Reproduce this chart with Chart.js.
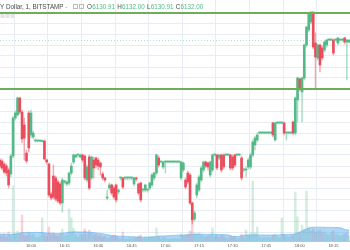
<!DOCTYPE html>
<html><head><meta charset="utf-8">
<script src="https://cdn.jsdelivr.net/npm/chart.js@4/dist/chart.umd.min.js"></script>
<style>html,body{margin:0;padding:0;background:#fff;overflow:hidden}#wrap{width:350px;height:250px}</style>
</head><body><div id="wrap"><canvas id="c" width="350" height="250"></canvas></div>
<script>
// 1-minute candles; minute offsets relative to 16:00, first candle at 15:46
const firstMinute = -14;
const opens = [
 6072,6071.5,6070,6069,6067,6065,6074,6093,6094.5,6103,
 6096,6089.5,6075.5,6095.5,6084.5,6083.5,6081.5,6081.5,6081.5,6081.25,
 6081.5,6072,6070,6055,6064,6063,6061,6060,6050.5,6061,
 6060,6060.5,6065.5,6071,6073.5,6074.5,6073.5,6074.5,6074,6062,
 6073.5,6063,6072,6073,6072,6070.5,6065,6063,6053,6058,
 6059.5,6058,6059.5,6056,6063,6063,6063,6063,6063,6063,
 6060,6063,6060,6060.5,6057,6057,6057,6058,6059.5,6063,
 6065.5,6073,6071,6068.5,6071,6071,6071,6071,6071,6071,
 6071,6063,6067,6062,6065.5,6064.5,6050.5,6042.5,6054.5,6057,
 6062,6067,6071,6070.5,6064.5,6067,6074.5,6074.5,6073,6074.5,
 6074.5,6074.5,6074.5,6074.5,6073.5,6074.5,6074.5,6074.5,6073,6067,
 6067,6068.5,6068.5,6074.5,6079.5,6082,6085.5,6085.5,6085.5,6085.5,
 6085.5,6085.5,6090.5,6082,6090.5,6090.5,6090.5,6090.5,6085.5,6085.5,
 6085.5,6091,6085.5,6102,6112.5,6106,6113,6129.5,6137,6141,
 6146,6130.5,6123,6129.5,6128,6127,6129.5,6132,6132,6132,
 6132,6130.5,6132,6132,6133,6131,6130.91
];
const highs = [
 6073,6072.5,6071,6070,6068,6075,6094,6096.5,6103.5,6103.5,
 6097,6093,6077,6096.5,6097,6086.5,6082.5,6082,6082,6082,
 6082,6072.5,6070.5,6056,6069.5,6064,6062,6061,6063,6062,
 6061.5,6066,6070.5,6075,6075,6075,6075,6075,6074.5,6069.5,
 6074.5,6074,6073.5,6073.5,6073,6071,6066,6063.5,6057,6060.5,
 6060,6059,6060,6057.5,6063.5,6063.5,6063.5,6063.5,6063.5,6063.5,
 6063.5,6063.5,6060.5,6061,6057.5,6060,6057.5,6061,6065.5,6066,
 6075,6074,6071.5,6071.5,6071.5,6071.5,6071.5,6071.5,6071.5,6071.5,
 6071.5,6071.5,6071,6063,6066.5,6065.5,6051,6046.5,6060.5,6064.5,
 6069,6071.5,6071.5,6071,6071.5,6075,6075,6075,6075,6075,
 6075,6075,6075,6075,6074.5,6075,6075,6075,6074,6068,
 6068.5,6073,6075.5,6082,6084,6085.5,6086,6086,6086,6086,
 6086,6086,6091,6091,6091,6091,6091,6091,6086,6086,
 6086,6091.5,6103.5,6113.5,6113,6113.5,6130,6139,6145.5,6146,
 6146,6135.5,6130,6130,6129,6131.5,6132.5,6132.5,6132.5,6132.5,
 6132.5,6133.5,6132.5,6132.5,6133.5,6132.5,6132
];
const lows = [
 6068,6067,6065,6064,6058,6063.5,6073,6092,6094,6095,
 6080.5,6072,6070.5,6076,6083,6082.5,6081,6081,6081,6081,
 6072,6070,6053.5,6052,6052.5,6051.5,6050.5,6049.5,6046,6060,
 6059,6059.5,6064.5,6070,6073,6073.5,6073,6071,6062,6061,
 6057,6062,6063,6068,6067,6064.5,6062,6061,6052,6057,
 6054.5,6052.5,6051,6055,6062,6057.5,6062,6062,6062,6062,
 6059,6061.5,6054.5,6051,6056,6056,6056,6057,6058.5,6062,
 6064.5,6068.5,6070.5,6067.5,6065.5,6070.5,6070.5,6070.5,6070.5,6070.5,
 6070.5,6062,6066,6057.5,6060,6049.5,6040,6041.5,6053,6056,
 6061,6066,6068,6067,6063.5,6066,6074,6067,6072,6066,
 6067.5,6074,6074,6067,6067,6068.5,6074,6074,6062,6066,
 6063.5,6067.5,6067.5,6073.5,6077,6081,6085,6085,6085,6085,
 6085,6085,6083.5,6081.5,6090,6090,6090,6084.5,6082,6085,
 6085,6084.5,6084.5,6091,6106.5,6091,6112,6128.5,6136,6140,
 6127.5,6108,6122,6116,6122,6126,6128.5,6131.5,6131.5,6124.5,
 6131.5,6129.5,6131.5,6131.5,6130,6112,6130.91
];
const closes = [
 6069,6068,6066,6065.5,6059.5,6074,6093,6095.5,6103,6096,
 6082.5,6083,6071.5,6078,6095.5,6085.5,6082,6081.5,6081.5,6081.5,
 6072.5,6071,6054.5,6053,6053.5,6052.5,6051.5,6050.5,6062,6061.5,
 6061,6065.5,6069,6074.5,6074.5,6074.5,6074.5,6072,6063,6068.5,
 6058,6073.5,6068,6069.5,6069,6068.5,6063,6062,6053.5,6059.5,
 6055.5,6053.5,6052,6057,6063,6058.5,6063,6063,6063,6063,
 6063,6062.5,6055.5,6052,6057,6059.5,6057,6060.5,6064.5,6065.5,
 6074.5,6069.5,6071,6071,6071,6071,6071,6071,6071,6071,
 6071,6071,6070.5,6058.5,6061,6050.5,6042,6045.5,6059.5,6063.5,
 6068,6071,6069,6068.5,6071,6074.5,6074.5,6068,6074.5,6067,
 6068.5,6074.5,6074.5,6068,6068,6069.5,6074.5,6074.5,6063,6067,
 6067,6072,6074.5,6081,6083,6084.5,6085.5,6085.5,6085.5,6085.5,
 6085.5,6085.5,6084.5,6090.5,6090.5,6090.5,6090.5,6085.5,6085.5,6085.5,
 6085.5,6085.5,6103,6113,6107.5,6113,6129.5,6138.5,6145,6146,
 6128.5,6123.5,6129.5,6119.5,6123,6131,6132,6132,6132,6125.5,
 6132,6133,6132,6132,6131,6132,6132
];
const volumes = [
 3.0,2.5,3.5,2.0,4.5,3.0,27.5,4.0,5.0,3.5,
 13.0,3.0,2.5,4.0,3.0,3.5,2.0,1.5,2.5,11.5,
 3.5,2.5,7.0,3.0,4.0,3.0,2.5,3.5,6.0,2.5,
 3.0,16.0,11.5,6.5,3.0,2.0,3.5,3.0,6.0,3.5,
 5.5,4.0,3.0,3.5,2.5,3.0,2.0,2.5,1.5,2.0,
 2.5,3.0,2.5,1.5,1.0,4.5,1.0,1.0,1.5,1.0,
 2.0,1.5,2.5,3.0,1.0,2.0,1.0,2.0,2.5,2.0,
 6.5,2.5,1.0,2.0,1.5,1.0,1.0,1.0,1.5,1.0,
 1.0,3.5,2.5,3.0,3.5,5.0,10.0,4.0,3.5,4.0,
 3.0,2.5,2.0,2.5,3.0,6.5,2.0,3.0,2.0,3.0,
 2.5,1.5,1.5,2.5,2.0,2.5,1.0,1.5,3.5,2.0,
 5.5,3.0,4.0,30.0,4.0,7.0,2.0,1.5,2.0,1.5,
 2.0,1.5,3.0,3.5,2.0,1.5,11.5,3.0,2.5,2.0,
 2.5,3.0,24.5,12.0,4.0,8.0,6.0,25.0,7.0,5.0,
 6.0,4.5,5.0,5.5,4.0,4.5,3.5,3.0,4.0,5.0,
 3.0,3.5,2.5,3.0,3.5,4.0,2.5
];
const volumeMA = [
 3.5,3.5,3.4,3.4,3.3,3.3,3.4,3.5,3.6,
 4.0,4.2,4.2,4.3,4.3,4.2,4.2,4.3,4.3,4.2,4.2,4.1,4.0,3.9,
 3.8,3.8,3.7,3.7,3.8,3.9,4.0,4.2,
 4.4,4.5,4.6,4.6,4.5,4.5,4.5,4.6,4.5,4.4,4.3,4.2,4.0,
 3.9,3.8,3.6,3.4,3.2,3.0,
 2.8,2.6,2.5,2.5,2.4,2.4,2.3,2.2,2.2,2.1,2.1,
 2.0,2.0,2.0,1.9,1.9,2.0,2.0,2.0,2.1,2.3,
 2.4,2.5,2.5,2.6,2.6,2.7,2.8,2.8,
 2.9,2.9,3.0,3.0,3.0,3.1,3.2,3.3,3.3,
 3.4,3.4,3.4,3.4,3.3,3.3,3.4,3.4,3.3,3.3,3.3,3.2,3.2,3.1,3.0,2.8,
 2.4,2.2,2.2,2.4,
 2.7,2.9,3.0,3.0,3.0,3.1,3.1,3.1,3.0,3.0,3.0,3.0,3.0,3.0,3.0,3.0,3.0,3.1,3.2,
 3.3,3.3,3.3,3.4,3.4,3.6,
 4.0,4.5,5.0,5.5,6.0,6.4,
 6.8,6.9,6.9,6.9,6.9,6.9,6.9,6.8,6.8,6.8,6.8,6.7,6.7,6.6,6.4,
 5.8,5.6,5.5
];
const tickMinutes = [0,15,30,45,60,75,90,105,120,135];
const tickLabels = ['16:00','16:15','16:30','16:45','17:00','17:15','17:30','17:45','18:00','18:15'];
const gridPrices = [6146,6140.5,6135,6129.5,6124,6118.5,6113,6107.5,6102,6096.5,6091,6085.5,6080,6074.5,6069,6063.5,6058,6052.5,6047,6041.5,6036];
const levels = [6145.5, 6107.5];
const titleText = 'Y Dollar, 1, BITSTAMP';
const ohlcLetters = ['O','H','L','C'];

const UP = '#53b987', DOWN = '#eb4d5c';
const minutes = opens.map((_, i) => firstMinute + i);
const isUp = opens.map((o, i) => closes[i] >= o);

const overlay = {
  id: 'overlay',
  afterDatasetsDraw(chart) {
    const {ctx, chartArea: a, scales: {y}} = chart;
    ctx.save();
    const py = Math.round(y.getPixelForValue(closes[closes.length - 1])) + 0.5;
    ctx.strokeStyle = 'rgba(83,185,135,0.45)';
    ctx.lineWidth = 1;
    ctx.setLineDash([1, 2]);
    ctx.beginPath(); ctx.moveTo(a.left, py); ctx.lineTo(a.right, py); ctx.stroke();
    ctx.setLineDash([]);
    ctx.strokeStyle = '#6fad58';
    ctx.lineWidth = 2;
    levels.forEach(v => {
      const ly = y.getPixelForValue(v);
      ctx.beginPath(); ctx.moveTo(a.left, ly); ctx.lineTo(a.right, ly); ctx.stroke();
    });
    ctx.restore();
  },
  afterDraw(chart) {
    const ctx = chart.ctx;
    const last = opens.length - 1;
    const vals = [opens[last], highs[last], lows[last], closes[last]].map(v => v.toFixed(2));
    ctx.save();
    ctx.textBaseline = 'middle';
    ctx.font = '6.3px "Liberation Sans", Arial, sans-serif';
    ctx.fillStyle = '#4a4a4a';
    ctx.fillText(titleText, 0, 7.5);
    const tw = ctx.measureText(titleText).width;
    ctx.fillStyle = '#9a9a9a';
    ctx.fillText(' -', tw, 7.5);
    ctx.strokeStyle = '#bdbdbd';
    ctx.lineWidth = 1;
    ctx.strokeRect(73.5, 4.5, 4, 4);
    ctx.strokeRect(79.5, 4.5, 4, 4);
    ctx.fillStyle = '#e4e4e4';
    [0.5, 5.5, 10.5].forEach(x => ctx.fillRect(x, 14, 4, 4));
    let x = 87;
    ohlcLetters.forEach((L, i) => {
      ctx.fillStyle = '#4a4a4a';
      ctx.fillText(L, x, 7.5);
      x += ctx.measureText(L).width + 0.3;
      ctx.fillStyle = UP;
      ctx.fillText(vals[i], x, 7.5);
      x += ctx.measureText(vals[i]).width + 2.2;
    });
    ctx.restore();
  }
};

new Chart(document.getElementById('c'), {
  type: 'bar',
  data: {
    datasets: [
      {
        label: 'body', order: 1, grouped: false, barThickness: 2, minBarLength: 1,
        data: minutes.map((m, i) => ({x: m, y: [opens[i], closes[i]]})),
        backgroundColor: isUp.map(u => u ? UP : DOWN), yAxisID: 'y'
      },
      {
        label: 'wick', order: 2, grouped: false, barThickness: 0.8,
        data: minutes.map((m, i) => ({x: m, y: [lows[i], highs[i]]})),
        backgroundColor: isUp.map(u => u ? 'rgba(83,185,135,0.5)' : 'rgba(235,77,92,0.5)'), yAxisID: 'y'
      },
      {
        type: 'line', label: 'volMA', order: 3,
        data: minutes.map((m, i) => ({x: m, y: volumeMA[i]})),
        fill: 'origin', backgroundColor: 'rgba(93,173,236,0.5)', borderColor: 'rgba(93,173,236,0.55)',
        borderWidth: 1, pointRadius: 0, tension: 0, yAxisID: 'yv'
      },
      {
        label: 'volume', order: 4, grouped: false, barThickness: 1.8,
        data: minutes.map((m, i) => ({x: m, y: volumes[i]})),
        backgroundColor: isUp.map(u => u ? 'rgba(83,185,135,0.25)' : 'rgba(235,77,92,0.25)'), yAxisID: 'yv'
      }
    ]
  },
  options: {
    responsive: false, animation: false, devicePixelRatio: 1,
    layout: {padding: 0},
    plugins: {legend: {display: false}, tooltip: {enabled: false}},
    scales: {
      x: {
        type: 'linear', min: -13.84, max: 142.41, offset: false,
        grid: {color: '#e7edf2', drawTicks: false},
        border: {display: true, color: '#c4c4c4'},
        ticks: {
          font: {size: 4, family: '"Liberation Sans", Arial, sans-serif'}, color: '#555',
          padding: 2, maxRotation: 0, autoSkip: false,
          callback: v => tickLabels[tickMinutes.indexOf(v)]
        },
        afterBuildTicks: s => { s.ticks = tickMinutes.map(v => ({value: v})); },
        afterFit: s => { s.height = 9; }
      },
      y: {
        type: 'linear', position: 'right', min: 6031.5, max: 6152,
        grid: {color: '#e7edf2', drawTicks: false},
        border: {display: false},
        ticks: {display: false},
        afterBuildTicks: s => { s.ticks = gridPrices.map(v => ({value: v})); },
        afterFit: s => { s.width = 0; }
      },
      yv: {type: 'linear', min: 0, max: 120.5, display: false}
    }
  },
  plugins: [overlay]
});
</script>
</body></html>
